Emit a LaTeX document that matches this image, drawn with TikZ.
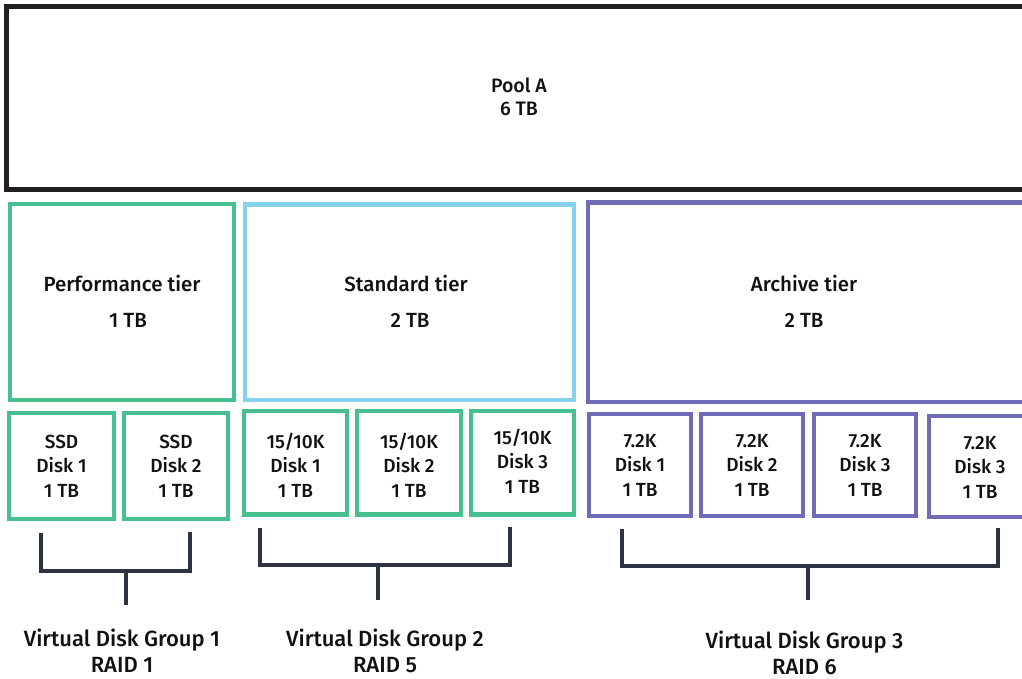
\documentclass[tikz,border=0pt]{standalone}
\usepackage{fontspec}
\setmainfont{Fira Sans}[UprightFont={* Medium}]
\definecolor{grn}{HTML}{48BF8E}
\definecolor{blu}{HTML}{84D3EA}
\definecolor{pur}{HTML}{6F6BB5}
\definecolor{poolc}{HTML}{231F20}
\definecolor{brkc}{HTML}{2E3342}
\definecolor{txtc}{HTML}{111111}
\begin{document}
\begin{tikzpicture}[x=1pt,y=-1pt,
  box/.style={draw=#1, line width=4.5pt, inner sep=0pt, fill=none},
  lbl/.style={align=center, inner sep=0pt, text=txtc},
  disktxt/.style={lbl, font=\fontsize{19}{24.5}\selectfont},
  tiertxt/.style={lbl, font=\fontsize{20.5}{24}\selectfont},
  grptxt/.style={lbl, font=\fontsize{22}{26}\selectfont},
  brk/.style={draw=brkc, line width=4pt, line join=miter}]
\useasboundingbox (0,0) rectangle (1022,679);
\clip (0,0) rectangle (1022,679);
\fill[white] (0,0) rectangle (1022,679);

% pool
\node[box=poolc, line width=5pt, minimum width=1029pt, minimum height=183pt] (pool) at (520.75,98) {};
\node[lbl, font=\fontsize{19.5}{23}\selectfont] (poolt) at (519,97) {Pool A\\6 TB};

% tiers
\node[box=grn, minimum width=224pt, minimum height=196pt] (perf) at (122,302) {};
\node[box=blu, minimum width=329pt, minimum height=195.5pt] (std) at (409.5,302.25) {};
\node[box=pur, minimum width=452pt, minimum height=199.5pt] (arch) at (814,302.25) {};
\node[tiertxt] (perft) at (122,283) {Performance tier};
\node[tiertxt] (perfs) at (128,320) {1 TB};
\node[tiertxt] (stdt) at (406,283) {Standard tier};
\node[tiertxt] (stds) at (410,320) {2 TB};
\node[tiertxt] (archt) at (804,283) {Archive tier};
\node[tiertxt] (archs) at (804,320) {2 TB};

% disks
\node[box=grn, minimum width=105pt, minimum height=106pt] (ssd1) at (61.5,466) {};
\node[box=grn, minimum width=104pt, minimum height=106pt] (ssd2) at (176,466) {};
\node[box=grn, minimum width=103pt, minimum height=103.5pt] (f1) at (295.5,462.75) {};
\node[box=grn, minimum width=104pt, minimum height=103.5pt] (f2) at (409,462.75) {};
\node[box=grn, minimum width=103pt, minimum height=103.5pt] (f3) at (522.5,462.75) {};
\node[box=pur, minimum width=102pt, minimum height=102pt] (p1) at (640,465) {};
\node[box=pur, minimum width=102pt, minimum height=102pt] (p2) at (752,465) {};
\node[box=pur, minimum width=102pt, minimum height=102pt] (p3) at (865,465) {};
\node[box=pur, minimum width=102pt, minimum height=101pt] (p4) at (980,466.5) {};

\node[disktxt] (ssd1t) at (61.5,466) {SSD\\Disk 1\\1 TB};
\node[disktxt] (ssd2t) at (176,466) {SSD\\Disk 2\\1 TB};
\node[disktxt] (f1t) at (295.5,465) {15/10K\\Disk 1\\1 TB};
\node[disktxt] (f2t) at (409,465) {15/10K\\Disk 2\\1 TB};
\node[disktxt] (f3t) at (522.5,461) {15/10K\\Disk 3\\1 TB};
\node[disktxt] (p1t) at (640,465) {7.2K\\Disk 1\\1 TB};
\node[disktxt] (p2t) at (752,465) {7.2K\\Disk 2\\1 TB};
\node[disktxt] (p3t) at (865,465) {7.2K\\Disk 3\\1 TB};
\node[disktxt] (p4t) at (980,467) {7.2K\\Disk 3\\1 TB};

% group labels
\node[grptxt] (g1) at (122,650.5) {Virtual Disk Group 1\\RAID 1};
\node[grptxt] (g2) at (385,650.5) {Virtual Disk Group 2\\RAID 5};
\node[grptxt] (g3) at (804.5,652.5) {Virtual Disk Group 3\\RAID 6};

% brackets
\coordinate (b1a) at (41,532.5);
\coordinate (b1b) at (41,571);
\coordinate (b1c) at (190,571);
\coordinate (b1d) at (190,532);
\coordinate (b1s) at (126,571);
\coordinate (b1e) at (126,605);
\draw[brk] (b1a) -- (b1b) -- (b1c) -- (b1d);
\draw[brk] (b1s) -- (b1e);

\coordinate (b2a) at (260,528);
\coordinate (b2b) at (260,565);
\coordinate (b2c) at (510,565);
\coordinate (b2d) at (510,527);
\coordinate (b2s) at (378,565);
\coordinate (b2e) at (378,600);
\draw[brk] (b2a) -- (b2b) -- (b2c) -- (b2d);
\draw[brk] (b2s) -- (b2e);

\coordinate (b3a) at (622,529);
\coordinate (b3b) at (622,566);
\coordinate (b3c) at (998,566);
\coordinate (b3d) at (998,528);
\coordinate (b3s) at (808,566);
\coordinate (b3e) at (808,600);
\draw[brk] (b3a) -- (b3b) -- (b3c) -- (b3d);
\draw[brk] (b3s) -- (b3e);
\end{tikzpicture}
\end{document}
